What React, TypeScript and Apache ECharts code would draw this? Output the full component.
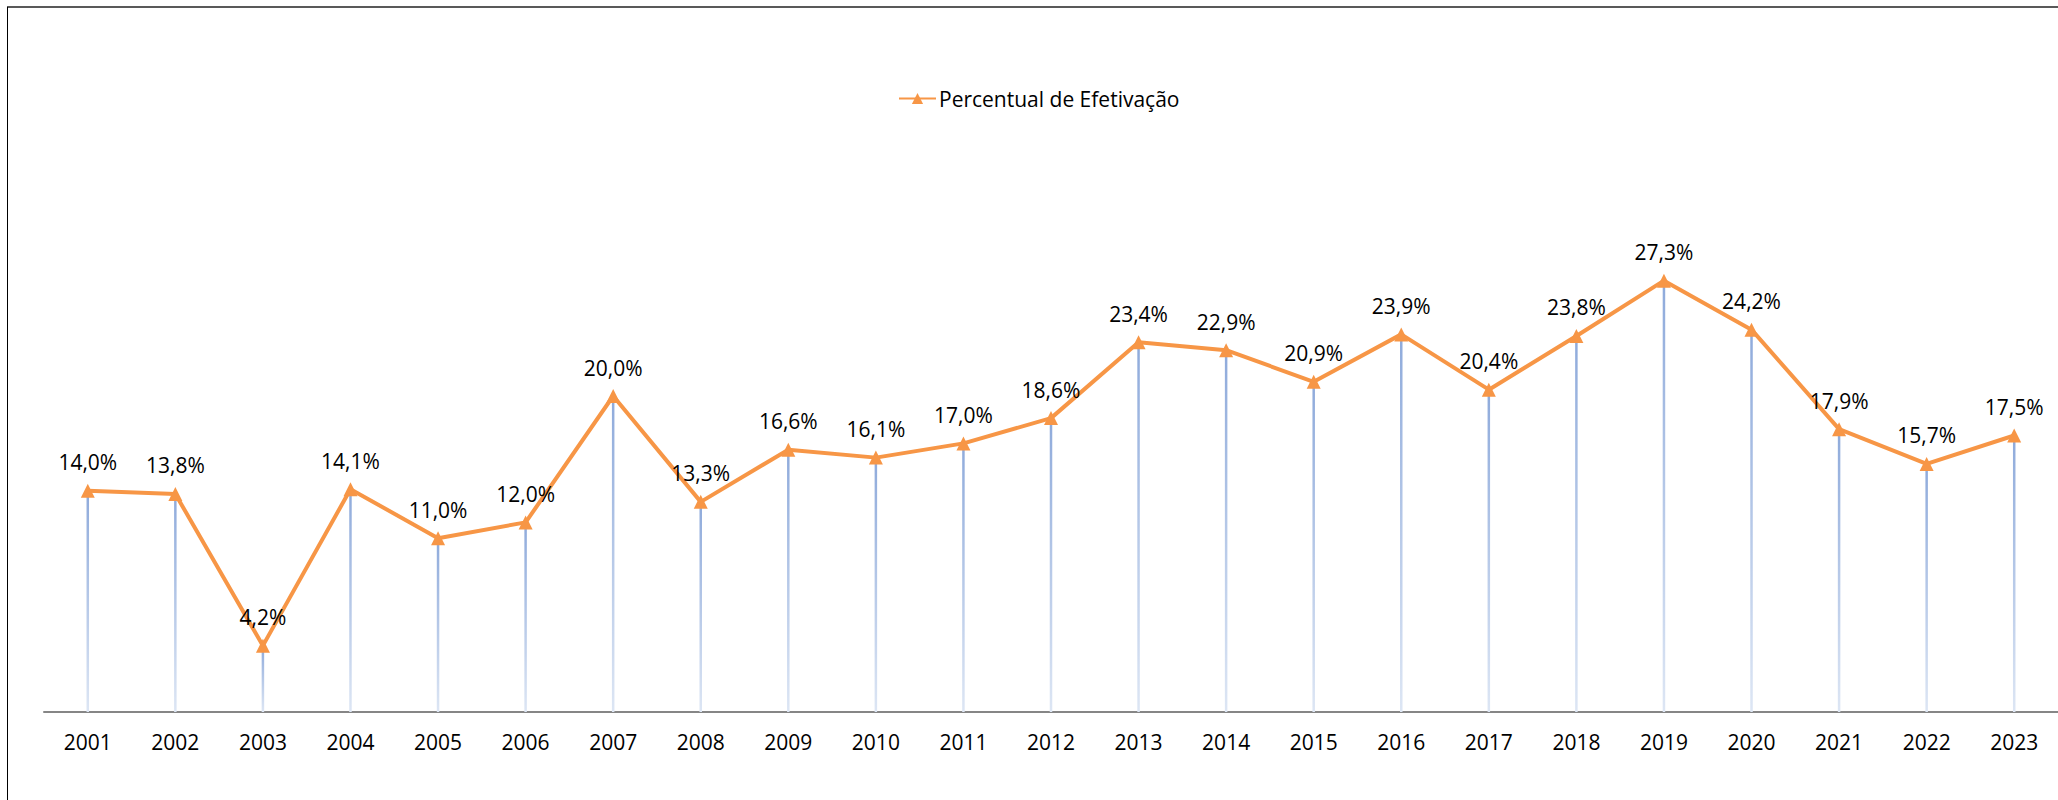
import React, { useEffect, useRef } from "react";
import * as echarts from "echarts";

const years = ["2001","2002","2003","2004","2005","2006","2007","2008","2009","2010","2011","2012","2013","2014","2015","2016","2017","2018","2019","2020","2021","2022","2023"];
const percentual = [14.0,13.8,4.2,14.1,11.0,12.0,20.0,13.3,16.6,16.1,17.0,18.6,23.4,22.9,20.9,23.9,20.4,23.8,27.3,24.2,17.9,15.7,17.5];
const seriesName = "Percentual de Efetivação";

const FONT = "'Open Sans', 'Noto Sans', sans-serif";

export default function App() {
  const ref = useRef<HTMLDivElement>(null);
  useEffect(() => {
    if (!ref.current) return;
    const chart = echarts.init(ref.current, undefined, { renderer: "svg" });
    chart.setOption({
      animation: false,
      backgroundColor: "#ffffff",
      textStyle: { fontFamily: FONT },
      legend: {
        data: [seriesName],
        left: 898,
        top: 88,
        padding: 0,
        itemWidth: 37,
        itemHeight: 14,
        itemGap: 3,
        textStyle: { fontFamily: FONT, fontSize: 21, color: "#000000", padding: [0, 0, 0, -2] },
      },
      grid: { left: 44, top: 238, width: 2024, height: 474, containLabel: false },
      xAxis: {
        type: "category",
        data: years,
        boundaryGap: true,
        axisLine: { show: true, lineStyle: { color: "#868686", width: 2 } },
        axisTick: { show: false },
        axisLabel: { fontFamily: FONT, fontSize: 21, color: "#000000", margin: 19 },
        splitLine: { show: false },
      },
      yAxis: {
        type: "value",
        min: 0,
        max: 30,
        show: false,
        splitLine: { show: false },
      },
      graphic: [
        { type: "line", shape: { x1: 7, y1: 7, x2: 2058, y2: 7 }, style: { stroke: "#595959", lineWidth: 2 } },
        { type: "line", shape: { x1: 7.5, y1: 7, x2: 7.5, y2: 800 }, style: { stroke: "#000000", lineWidth: 1 } },
      ],
      series: [
        {
          type: "bar",
          name: "drop",
          data: percentual,
          barWidth: 2.5,
          silent: true,
          z: 1,
          itemStyle: {
            color: new echarts.graphic.LinearGradient(0, 0, 0, 1, [
              { offset: 0, color: "#8eaadb" },
              { offset: 1, color: "#dde6f4" },
            ]),
          },
          label: { show: false },
        },
        {
          type: "line",
          name: seriesName,
          data: percentual,
          z: 3,
          symbol: "triangle",
          symbolSize: 14,
          showAllSymbol: true,
          lineStyle: { color: "#f79646", width: 4 },
          itemStyle: { color: "#f79646" },
          label: {
            show: true,
            position: "top",
            distance: 11,
            fontFamily: FONT,
            fontSize: 21,
            color: "#000000",
            formatter: (p: any) => p.value.toFixed(1).replace(".", ",") + "%",
          },
        },
      ],
    });
    return () => chart.dispose();
  }, []);
  return (
    <div
      ref={ref}
      style={{ position: "absolute", left: 0, top: 0, width: 2058, height: 800 }}
    />
  );
}
